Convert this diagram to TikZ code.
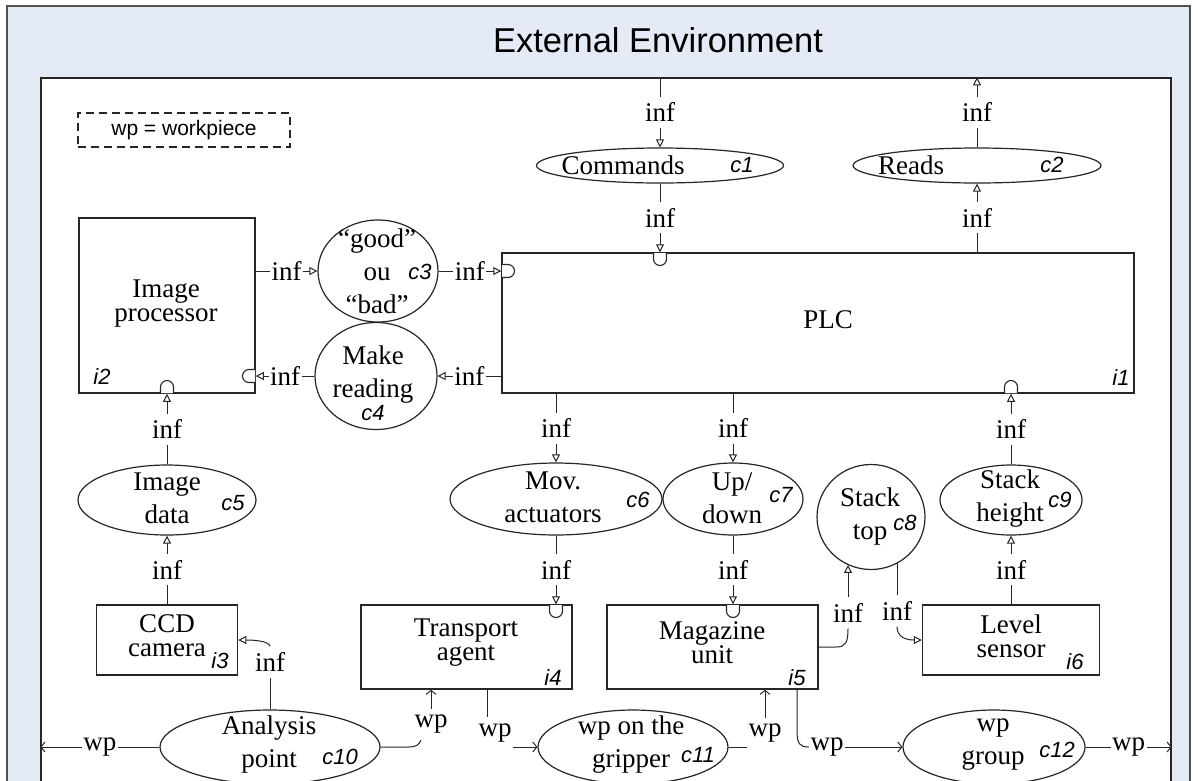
\documentclass[tikz,border=0pt]{standalone}
\usepackage{fontspec}
\setmainfont{Liberation Serif}
\newfontfamily\sansf{Liberation Sans}
\usetikzlibrary{arrows.meta,shapes.geometric}
\definecolor{envblue}{HTML}{E4EBF6}
\definecolor{lineclr}{HTML}{262626}
\definecolor{frameclr}{HTML}{505050}
% ports: half-round sockets drawn inside a box, flat side on the edge
\newcommand\portD[2]{\draw[portst] (#1-6.5,#2) -- ++(0,6) arc[start angle=180,end angle=0,radius=6.5] -- (#1+6.5,#2);}
\newcommand\portU[2]{\draw[portst] (#1-6.5,#2) -- ++(0,-6) arc[start angle=180,end angle=360,radius=6.5] -- (#1+6.5,#2);}
\newcommand\portR[2]{\draw[portst] (#1,#2-6.5) -- ++(6,0) arc[start angle=-90,end angle=90,radius=6.5] -- (#1,#2+6.5);}
\newcommand\portL[2]{\draw[portst] (#1,#2-6.5) -- ++(-6,0) arc[start angle=270,end angle=90,radius=6.5] -- (#1,#2+6.5);}
\begin{document}
\begin{tikzpicture}[x=1pt,y=-1pt,
  box/.style={draw=lineclr, line width=1.5pt, rectangle, inner sep=0pt},
  ell/.style={draw=lineclr, line width=1.2pt, ellipse, inner sep=0pt},
  btxt/.style={align=center, inner sep=0pt, font=\fontsize{27}{24}\selectfont},
  etxt/.style={align=center, inner sep=0pt, font=\fontsize{27}{33}\selectfont},
  cid/.style={inner sep=0pt, font=\sansf\itshape\fontsize{22}{22}\selectfont},
  lbl/.style={fill=white, inner xsep=1.5pt, inner ysep=6pt, font=\fontsize{27}{27}\selectfont},
  con/.style={draw=lineclr, line width=1pt},
  infarr/.style={con, -{Triangle[open, length=8pt, width=8pt]}},
  wparr/.style={con, -{Straight Barb[length=4pt, width=10pt]}},
  portst/.style={draw=lineclr, line width=1.1pt, fill=white}
]
\useasboundingbox (0,0) rectangle (1198,780);

% environment frames
\node[draw=frameclr, line width=1.2pt, fill=envblue, minimum width=1183pt, minimum height=830pt, inner sep=0pt] (outer) at (598.5,421) {};
\node[draw=lineclr, line width=1.4pt, fill=white, minimum width=1130pt, minimum height=760pt, inner sep=0pt] (inner) at (606,458) {};
\node[inner sep=0pt, font=\sansf\fontsize{34.5}{34.5}\selectfont] (title) at (658,40) {External Environment};
\node[draw=lineclr, line width=1.1pt, dash pattern=on 8pt off 5pt, minimum width=212pt, minimum height=34pt, inner sep=0pt, font=\sansf\fontsize{21}{21}\selectfont] (legend) at (184,130) {wp = workpiece};

% boxes (interfaces)
\node[box, minimum width=632pt, minimum height=140pt] (plc) at (818,323) {};
\node[box, minimum width=176pt, minimum height=175pt] (i2) at (167,305.5) {};
\node[box, minimum width=141pt, minimum height=70pt] (i3) at (167,640) {};
\node[box, minimum width=211pt, minimum height=84pt] (i4) at (466.5,647) {};
\node[box, minimum width=211pt, minimum height=84pt] (i5) at (712.5,647) {};
\node[box, minimum width=177pt, minimum height=70pt] (i6) at (1011,640) {};

\node[btxt] (plct) at (828,320) {PLC};
\node[btxt] (i2t) at (166,303.5) {Image\\processor};
\node[btxt] (i3t) at (167,636) {CCD\\camera};
\node[btxt] (i4t) at (466,643) {Transport\\agent};
\node[btxt] (i5t) at (712,643) {Magazine\\unit};
\node[btxt] (i6t) at (1011,636) {Level\\sensor};

\node[cid] (i1l) at (1121,378) {i1};
\node[cid] (i2l) at (102,377) {i2};
\node[cid] (i3l) at (220,661) {i3};
\node[cid] (i4l) at (553,678) {i4};
\node[cid] (i5l) at (797,678) {i5};
\node[cid] (i6l) at (1075,662) {i6};

% ellipses (channels)
\node[ell, minimum width=247pt, minimum height=35pt] (c1) at (660,165.5) {};
\node[ell, minimum width=248pt, minimum height=35pt] (c2) at (977,165.5) {};
\node[ell, minimum width=120pt, minimum height=102pt] (c3) at (378,271) {};
\node[ell, minimum width=122pt, minimum height=107pt] (c4) at (376,376) {};
\node[ell, minimum width=178pt, minimum height=70pt] (c5) at (167,500) {};
\node[ell, minimum width=212pt, minimum height=72pt] (c6) at (556,499) {};
\node[ell, minimum width=140pt, minimum height=72pt] (c7) at (733,499) {};
\node[ell, minimum width=108pt, minimum height=105pt] (c8) at (871,517) {};
\node[ell, minimum width=142pt, minimum height=70pt] (c9) at (1011,500) {};
\node[ell, minimum width=220pt, minimum height=74pt] (c10) at (270,747) {};
\node[ell, minimum width=190pt, minimum height=74pt] (c11) at (633,747) {};
\node[ell, minimum width=182pt, minimum height=74pt] (c12) at (994,747) {};

\node[etxt] (c1t) at (623,165) {Commands};
\node[etxt] (c2t) at (911,165) {Reads};
\node[etxt] (c3t) at (377,271) {“good”\\ou\\“bad”};
\node[etxt] (c4t) at (373,375) {Make\\reading};
\node[etxt] (c5t) at (167,498.5) {Image\\data};
\node[etxt] (c6t) at (553,497.5) {Mov.\\actuators};
\node[etxt] (c7t) at (732,498.5) {Up/\\down};
\node[etxt] (c8t) at (870,516.5) {Stack\\top};
\node[etxt] (c9t) at (1010,498.5) {Stack\\height};
\node[etxt] (c10t) at (269,744) {Analysis\\point};
\node[etxt] (c11t) at (631,745) {wp on the\\gripper};
\node[etxt] (c12t) at (993,745) {wp\\group};

\node[cid] (c1l) at (742,165) {c1};
\node[cid] (c2l) at (1052,165) {c2};
\node[cid] (c3l) at (420,272) {c3};
\node[cid] (c4l) at (373,413) {c4};
\node[cid] (c5l) at (233,503) {c5};
\node[cid] (c6l) at (638,500) {c6};
\node[cid] (c7l) at (781,495) {c7};
\node[cid] (c8l) at (905,523) {c8};
\node[cid] (c9l) at (1060,500) {c9};
\node[cid] (c10l) at (340,757) {c10};
\node[cid] (c11l) at (698,755) {c11};
\node[cid] (c12l) at (1057,750) {c12};

% information flows
\draw[infarr] (c1.north |- inner.north) -- node[lbl] (n1) {inf} (c1.north);
\draw[infarr] (c1.south) -- node[lbl] (n2) {inf} (c1.south |- plc.north);
\draw[infarr] (plc.north -| c2.south) -- node[lbl] (n3) {inf} (c2.south);
\draw[infarr] (c2.north) -- node[lbl] (n4) {inf} (c2.north |- inner.north);

\draw[infarr] (i2.east |- c3.west) -- node[lbl] (n5) {inf} (c3.west);
\draw[infarr] (c3.east) -- node[lbl] (n6) {inf} (c3.east -| plc.west);
\draw[infarr] (plc.west |- c4.east) -- node[lbl] (n7) {inf} (c4.east);
\draw[infarr] (c4.west) -- node[lbl] (n8) {inf} (c4.west -| i2.east);

\draw[infarr] (plc.south -| c6.north) -- node[lbl] (n9) {inf} (c6.north);
\draw[infarr] (plc.south -| c7.north) -- node[lbl] (n10) {inf} (c7.north);
\draw[infarr] (c9.north) -- node[lbl] (n11) {inf} (c9.north |- plc.south);
\draw[infarr] (c5.north) -- node[lbl] (n12) {inf} (c5.north |- i2.south);
\draw[infarr] (i3.north -| c5.south) -- node[lbl] (n13) {inf} (c5.south);
\draw[infarr] (c6.south) -- node[lbl] (n14) {inf} (c6.south |- i4.north);
\draw[infarr] (c7.south) -- node[lbl] (n15) {inf} (c7.south |- i5.north);
\draw[infarr] (i6.north -| c9.south) -- node[lbl] (n16) {inf} (c9.south);

% magazine unit -> stack top -> level sensor
\node[lbl] (n17) at (848,613) {inf};
\draw[con] (i5.east) -- (836,647) .. controls (846,647) and (848,642) .. (n17.south);
\draw[infarr] (n17.north) -- (n17.north |- c8.244);
\node[lbl] (n18) at (897,611) {inf};
\draw[con] (c8.300) -- (c8.300 |- n18.north);
\draw[infarr] (n18.south) .. controls (897,637) and (906,640) .. (i6.west);

% analysis point -> CCD camera
\node[lbl] (n19) at (270,662) {inf};
\draw[con] (c10.north) -- (n19.south);
\draw[infarr] (n19.north) .. controls (269,641) and (254,640) .. (i3.east);

% workpiece flows
\draw[wparr] (c10.west) -- node[lbl] (n20) {wp} (c10.west -| inner.west);
\draw[wparr] (c12.east) -- node[lbl] (n21) {wp} (c12.east -| inner.east);

\node[lbl] (n22) at (431,724) {wp};
\coordinate (k1) at (421,740);
\draw[con] (c10.east) -- (409,747) .. controls (416,747) and (419,745) .. (k1);
\draw[wparr] (n22.north) -- (n22.north |- i4.south);

\node[lbl] (n23) at (495,733) {wp};
\coordinate (k2) at (487,717);
\draw[con] (k2 |- i4.south) -- (k2);
\draw[wparr] (n23.east |- c11.west) -- (c11.west);

\node[lbl] (n24) at (765,733) {wp};
\draw[con] (c11.east) -- (c11.east -| n24.west);
\draw[wparr] (n24.north) -- (n24.north |- i5.south);

\node[lbl] (n25) at (827,747) {wp};
\coordinate (k3) at (797,731);
\draw[con] (k3 |- i5.south) -- (k3) .. controls (797,744) and (800,747) .. (n25.west);
\draw[wparr] (n25.east) -- (c12.west);

% ports
\portD{660}{253}
\portR{502}{271}
\portU{1011}{393}
\portL{255}{376}
\portU{167}{393}
\portD{556}{605}
\portD{733}{605}
\end{tikzpicture}
\end{document}
